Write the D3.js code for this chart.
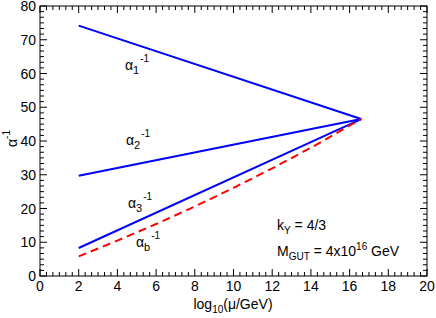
<!DOCTYPE html>
<html lang="en">
<head>
<meta charset="UTF-8">
<title>Gauge coupling unification</title>
<script src="https://d3js.org/d3.v7.min.js"></script>
<style>
  body { margin: 0; background: #fff; }
  text { font-family: "Liberation Sans", Arial, sans-serif; fill: #000; }
</style>
</head>
<body>
<div id="chart"></div>
<script>
// data (x = log10(mu/GeV), y = alpha^-1)
const xTicks = [0, 2, 4, 6, 8, 10, 12, 14, 16, 18, 20];
const yTicks = [0, 10, 20, 30, 40, 50, 60, 70, 80];

const xGUT = 16.6;
const alpha1 = [[2, 74.2], [xGUT, 46.5]];
const alpha2 = [[2, 29.7], [xGUT, 46.5]];
const alpha3 = [[2, 8.3], [xGUT, 46.5]];
const alphaB = [[2, 5.8], [4, 10.5], [6, 15.4], [8, 20.6], [10, 26.1], [12, 31.9], [14, 38.0], [xGUT, 46.5]];

const W = 436, H = 318;
const margin = {top: 6, right: 9, bottom: 42, left: 40};
const width = W - margin.left - margin.right,
      height = H - margin.top - margin.bottom;

const svg = d3.select("#chart").append("svg")
    .attr("width", W).attr("height", H);
const g = svg.append("g")
    .attr("transform", `translate(${margin.left},${margin.top})`);

const x = d3.scaleLinear().domain([0, 20]).range([0, width]);
const y = d3.scaleLinear().domain([0, 80]).range([height, 0]);

// minor ticks: 6 subdivisions per major step
const xMinor = d3.range(0, 61).map(i => i / 3).filter(v => !xTicks.some(t => Math.abs(t - v) < 1e-6));
const yMinor = d3.range(0, 49).map(i => i * 10 / 6).filter(v => !yTicks.some(t => Math.abs(t - v) < 1e-6));

// frame
g.append("rect").attr("width", width).attr("height", height)
    .attr("fill", "none").attr("stroke", "#000").attr("stroke-width", 1);

// inward ticks on all four sides
function tickLines(vals, len, horizontal) {
  vals.forEach(v => {
    if (horizontal) {
      g.append("line").attr("x1", x(v)).attr("x2", x(v)).attr("y1", height).attr("y2", height - len);
      g.append("line").attr("x1", x(v)).attr("x2", x(v)).attr("y1", 0).attr("y2", len);
    } else {
      g.append("line").attr("y1", y(v)).attr("y2", y(v)).attr("x1", 0).attr("x2", len);
      g.append("line").attr("y1", y(v)).attr("y2", y(v)).attr("x1", width).attr("x2", width - len);
    }
  });
}
tickLines(xTicks, 7, true);
tickLines(xMinor, 4, true);
tickLines(yTicks, 7, false);
tickLines(yMinor, 4, false);
g.selectAll("line").attr("stroke", "#000").attr("stroke-width", 1);

// tick labels
g.selectAll(".xl").data(xTicks).enter().append("text")
    .attr("x", d => x(d)).attr("y", height + 15)
    .attr("text-anchor", "middle").style("font-size", "14px")
    .text(d => d);
g.selectAll(".yl").data(yTicks).enter().append("text")
    .attr("x", -4).attr("y", d => y(d) + 5)
    .attr("text-anchor", "end").style("font-size", "14px")
    .text(d => d);

// curves
const line = d3.line().x(d => x(d[0])).y(d => y(d[1]));
[alpha1, alpha2, alpha3].forEach(s => {
  g.append("path").datum(s).attr("d", line)
      .attr("fill", "none").attr("stroke", "#0000ff").attr("stroke-width", 2);
});
g.append("path").datum(alphaB).attr("d", line)
    .attr("fill", "none").attr("stroke", "#ff0000").attr("stroke-width", 2)
    .attr("stroke-dasharray", "8,5");

// alpha labels with sub/superscripts
function alphaLabel(px, py, sub) {
  const t = svg.append("text").attr("x", px).attr("y", py).style("font-size", "14px");
  t.append("tspan").text("α");
  t.append("tspan").attr("dy", 4).style("font-size", "11px").text(sub);
  t.append("tspan").attr("dy", -12).attr("dx", 1).style("font-size", "10px").text("-1");
}
alphaLabel(125, 70, "1");
alphaLabel(126, 145, "2");
alphaLabel(128, 208, "3");
alphaLabel(136, 247, "b");

// annotations
const k = svg.append("text").attr("x", 277).attr("y", 230).style("font-size", "14px");
k.append("tspan").text("k");
k.append("tspan").attr("dy", 4).style("font-size", "10px").text("Y");
k.append("tspan").attr("dy", -4).text(" = 4/3");

const m = svg.append("text").attr("x", 277).attr("y", 256).style("font-size", "14px");
m.append("tspan").text("M");
m.append("tspan").attr("dy", 4).style("font-size", "10px").text("GUT");
m.append("tspan").attr("dy", -4).text(" = 4x10");
m.append("tspan").attr("dy", -6).style("font-size", "10px").text("16");
m.append("tspan").attr("dy", 6).text(" GeV");

// axis titles
const xt = svg.append("text").attr("x", 233).attr("y", 309)
    .attr("text-anchor", "middle").style("font-size", "14px");
xt.append("tspan").text("log");
xt.append("tspan").attr("dy", 4).style("font-size", "10px").text("10");
xt.append("tspan").attr("dy", -4).text("(μ/GeV)");

const yt = svg.append("text")
    .attr("transform", "translate(17,147) rotate(-90)")
    .style("font-size", "14px");
yt.append("tspan").text("α");
yt.append("tspan").attr("dy", -7).style("font-size", "10px").text("-1");
</script>
</body>
</html>
